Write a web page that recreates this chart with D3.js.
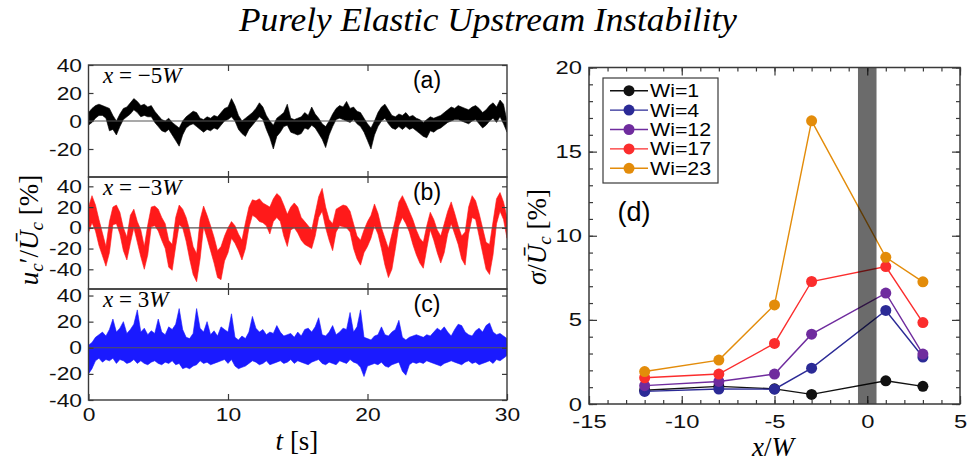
<!DOCTYPE html>
<html>
<head>
<meta charset="utf-8">
<script src="https://cdn.jsdelivr.net/npm/d3@7"></script>
<style>
  body { margin: 0; background: #fff; }
</style>
</head>
<body>
<div id="chart"></div>
<script>
// ---- data -------------------------------------------------------------
var title = "Purely Elastic Upstream Instability";

// velocity traces, envelope of the scatter read every dt seconds (0..30 s)
var dt = 0.25;
var hiA = [6,9,11,12,11,10,9,4,0,5, 9,10,13,16,14,11,12,10,11,7, 4,1,0,2,-1,-3,-5,0,3,5,
  7,6,2,1,3,2,4,3,6,9, 10,16,11,4,0,2,4,6,9,13, 10,4,0,-3,2,4,6,12,2,1,
  2,3,6,4,10,5,2,-2,-4,0, 5,9,11,10,14,9,10,7,6,2, -2,-5,0,6,10,12,8,4,3,5,
  4,6,3,4,2,1,-1,1,3,2, 3,4,6,8,10,9,11,10,9,8, 10,11,9,6,8,11,13,10,15,12, 0];
var loA = [-3,-1,2,4,4,2,-7,-6,-10,-4, 1,3,5,8,6,3,4,3,3,-1, -4,-7,-8,-6,-10,-14,-18,-10,-5,-3,
  -2,-4,-6,-8,-6,-7,-5,-6,-3,0, 1,3,0,-6,-9,-11,-6,-3,0,3, 1,-6,-12,-20,-11,-8,-4,-3,-8,-9,
  -10,-9,-5,-6,-3,-5,-9,-13,-19,-10, -4,1,2,1,0,-1,1,-2,-4,-8, -14,-20,-10,-4,0,2,-2,-5,-6,-4,
  -6,-4,-6,-5,-7,-9,-11,-12,-7,-8, -6,-5,-3,-1,0,1,1,0,-1,-2, 0,1,-2,-5,-3,0,2,-1,3,-2, -8];

var hiB = [20,31,22,8,-5,-18,6,20,22,15, 0,-9,12,18,6,-2,-18,3,20,21, 18,10,4,-12,-16,10,22,18,10,-2,
  -18,-25,8,21,12,2,-9,-22,-18,-8, 0,6,2,-6,-12,5,20,27,26,28, 24,22,20,28,33,30,22,13,20,24,
  20,10,6,2,-2,14,30,38,20,8, 4,18,20,22,21,16,4,-8,-12,-2, 6,12,23,14,0,-10,-20,-6,8,25,
  31,24,16,8,-2,-10,-14,2,15,8, -2,-8,4,16,25,14,2,-8,-4,20, 31,26,14,0,-14,-16,6,28,34,25, 10];
var loB = [-5,5,-3,-17,-27,-37,-24,3,4,-6, -22,-31,-15,0,-14,-28,-40,-26,1,2, -3,-12,-20,-38,-41,-18,3,0,-13,-30,
  -45,-52,-30,1,-10,-22,-34,-48,-50,-32, -24,-10,-15,-22,-31,-20,0,12,10,6, 5,2,-6,6,10,6,-8,-18,-2,0,
  -5,-12,-16,-18,-20,-8,10,16,0,-12, -22,-4,2,1,0,-4,-20,-30,-36,-24, -18,-10,2,-6,-20,-36,-48,-40,-20,2,
  10,4,-4,-16,-26,-34,-39,-20,-2,-12, -24,-34,-24,-6,4,-6,-16,-30,-36,-6, 10,8,-8,-24,-40,-45,-26,4,16,8, -10];

var hiC = [2,4,8,10,12,9,14,22,12,15, 20,11,14,18,29,12,15,10,13,11, 22,12,10,16,14,18,30,14,8,7,
  11,30,15,12,20,10,13,9,16,14, 12,26,8,6,9,7,12,24,15,12, 14,10,12,11,17,12,9,10,11,8,
  12,9,14,15,12,16,23,10,9,12, 17,10,12,15,14,27,12,16,29,8, 7,6,9,10,16,10,9,12,14,21,
  8,6,8,9,10,9,8,10,9,12, 15,13,16,12,9,14,18,17,12,10, 9,13,15,12,17,19,12,10,11,9, 7];
var loC = [-20,-16,-10,-8,-11,-9,-10,-8,-12,-9, -10,-12,-11,-9,-12,-10,-12,-13,-11,-10, -12,-13,-11,-12,-10,-13,-12,-16,-15,-16,
  -14,-13,-10,-12,-11,-13,-12,-11,-10,-9, -12,-9,-14,-16,-15,-14,-12,-10,-11,-13, -12,-10,-13,-12,-11,-10,-12,-11,-9,-12,
  -10,-11,-12,-13,-11,-10,-9,-12,-13,-11, -12,-13,-10,-11,-12,-9,-11,-12,-15,-22, -14,-13,-12,-13,-11,-14,-15,-13,-12,-11,
  -18,-21,-13,-11,-12,-11,-12,-10,-11,-12, -13,-14,-12,-11,-10,-11,-12,-13,-11,-10, -12,-11,-13,-12,-11,-10,-12,-9,-10,-8, -6];

var timeTicks = [0, 10, 20, 30];
var yTicksA = [-20, 0, 20, 40];
var yTicksB = [-40, -20, 0, 20, 40];
var yTicksC = [-40, -20, 0, 20, 40];

// panel (d): rms fluctuation vs position
var xPos = [-12, -8, -5, -3, 1, 3];
var wiNames = ["Wi=1", "Wi=4", "Wi=12", "Wi=17", "Wi=23"];
var sigWi1 = [0.82, 1.05, 0.9, 0.57, 1.38, 1.05];
var sigWi4 = [0.75, 0.89, 0.88, 2.13, 5.56, 2.79];
var sigWi12 = [1.09, 1.34, 1.78, 4.15, 6.59, 2.97];
var sigWi17 = [1.56, 1.78, 3.6, 7.28, 8.17, 4.84];
var sigWi23 = [1.93, 2.61, 5.89, 16.83, 8.72, 7.26];
var slitBand = [-0.5, 0.5];

// ---- setup ------------------------------------------------------------
var w = 971, h = 466;
var sans = "'Liberation Sans', Arial, Helvetica, sans-serif";
var serif = "'Liberation Serif', 'Times New Roman', serif";
var frameColor = "#3a3a3a";

var svg = d3.select("#chart").append("svg")
    .attr("width", w)
    .attr("height", h)
    .style("font-family", sans);

svg.append("rect").attr("width", w).attr("height", h).attr("fill", "#fff");

svg.append("text")
    .attr("x", 488).attr("y", 31)
    .attr("text-anchor", "middle")
    .attr("font-family", serif)
    .attr("font-style", "italic")
    .attr("font-size", 33)
    .attr("textLength", 498)
    .attr("lengthAdjust", "spacingAndGlyphs")
    .text(title);

// the figure's lettering is a little wider than tall, so stretch labels
function stretchText(sel, stretch) {
    sel.each(function() {
        if (!this.textContent) return;
        d3.select(this).attr("textLength", this.getComputedTextLength() * stretch)
            .attr("lengthAdjust", "spacingAndGlyphs");
    });
}

function styleAxis(g, size, stretch) {
    g.select(".domain").remove();
    g.selectAll("line").attr("stroke", frameColor).attr("stroke-width", 1.2);
    g.selectAll("text")
        .attr("font-size", size)
        .attr("fill", "#111")
        .attr("font-family", sans)
        .call(stretchText, stretch || 1);
}

// ---- left: three time traces ------------------------------------------
var xT = d3.scaleLinear().domain([0, 30]).range([88.5, 507]);

var panels = [
    { hi: hiA, lo: loA, color: "#000", top: 65, bottom: 177, domain: [-40, 40], ticks: yTicksA, pos: "\u22125", tag: "(a)" },
    { hi: hiB, lo: loB, color: "#ff1a1a", top: 177, bottom: 289, domain: [-59, 49], ticks: yTicksB, pos: "\u22123", tag: "(b)" },
    { hi: hiC, lo: loC, color: "#1a1aff", top: 289, bottom: 400, domain: [-40, 45], ticks: yTicksC, pos: "3", tag: "(c)" }
];

panels.forEach(function(p, k) {
    var y = d3.scaleLinear().domain(p.domain).range([p.bottom, p.top]);
    var g = svg.append("g");

    svg.append("clipPath").attr("id", "clip" + k)
        .append("rect")
        .attr("x", xT(0)).attr("y", p.top)
        .attr("width", xT(30) - xT(0)).attr("height", p.bottom - p.top);

    var area = d3.area()
        .x(function(d, i) { return xT(i * dt); })
        .y0(function(d, i) { return y(p.lo[i]); })
        .y1(function(d) { return y(d); });

    g.append("path")
        .datum(p.hi)
        .attr("clip-path", "url(#clip" + k + ")")
        .attr("d", area)
        .attr("fill", p.color)
        .attr("stroke", p.color)
        .attr("stroke-width", 0.6);

    // zero line
    g.append("line")
        .attr("x1", xT(0)).attr("x2", xT(30))
        .attr("y1", y(0)).attr("y2", y(0))
        .attr("stroke", "#555").attr("stroke-width", 1.2);

    // axes
    g.append("g").attr("transform", "translate(" + xT(0) + ",0)")
        .call(d3.axisLeft(y).tickValues(p.ticks).tickSizeInner(-5).tickSizeOuter(0)
            .tickPadding(6.5).tickFormat(function(d) { return String(d); }))
        .call(styleAxis, 19, 1.2);
    g.append("g").attr("transform", "translate(" + xT(30) + ",0)")
        .call(d3.axisRight(y).tickValues(p.ticks).tickSizeInner(-5).tickSizeOuter(0).tickFormat(""))
        .call(styleAxis, 19);
    g.append("g").attr("transform", "translate(0," + p.top + ")")
        .call(d3.axisTop(xT).tickValues([10, 20]).tickSizeInner(-6).tickSizeOuter(0).tickFormat(""))
        .call(styleAxis, 19);
    var bottomAxis = d3.axisBottom(xT).tickSizeInner(-6).tickSizeOuter(0).tickPadding(8);
    if (k === 2) {
        bottomAxis.tickValues(timeTicks).tickFormat(function(d) { return String(d); });
    } else {
        bottomAxis.tickValues([10, 20]).tickFormat("");
    }
    g.append("g").attr("transform", "translate(0," + p.bottom + ")")
        .call(bottomAxis)
        .call(styleAxis, 19, 1.2);

    // frame
    g.append("rect")
        .attr("x", xT(0)).attr("y", p.top)
        .attr("width", xT(30) - xT(0)).attr("height", p.bottom - p.top)
        .attr("fill", "none").attr("stroke", frameColor).attr("stroke-width", 1.4);

    // position label
    var lab = g.append("text")
        .attr("x", 103).attr("y", p.top + 18)
        .attr("font-family", serif).attr("font-size", 23);
    lab.append("tspan").attr("font-style", "italic").text("x");
    lab.append("tspan").text(" = " + p.pos);
    lab.append("tspan").attr("font-style", "italic").text("W");

    g.append("text")
        .attr("x", 427).attr("y", p.top + 23)
        .attr("text-anchor", "middle")
        .attr("font-size", 23)
        .text(p.tag);
});

// left axis titles
var yLab = svg.append("text")
    .attr("transform", "translate(38,230) rotate(-90)")
    .attr("text-anchor", "middle")
    .attr("font-family", serif)
    .attr("font-size", 27);
yLab.append("tspan").attr("font-style", "italic").text("u");
yLab.append("tspan").attr("font-style", "italic").attr("font-size", 19).attr("dy", 5).text("c");
yLab.append("tspan").attr("dy", -5).text("\u2032/");
yLab.append("tspan").attr("font-style", "italic").text("\u016A");
yLab.append("tspan").attr("font-style", "italic").attr("font-size", 19).attr("dy", 5).text("c");
yLab.append("tspan").attr("dy", -5).text(" [%]");

var tLab = svg.append("text")
    .attr("x", 297).attr("y", 450)
    .attr("text-anchor", "middle")
    .attr("font-family", serif)
    .attr("font-size", 27);
tLab.append("tspan").attr("font-style", "italic").text("t");
tLab.append("tspan").text(" [s]");

// ---- right: sigma vs x/W ----------------------------------------------
var xR = d3.scaleLinear().domain([-15, 5]).range([589, 960]);
var yR = d3.scaleLinear().domain([0, 20]).range([404, 67.5]);

var series = [
    { name: wiNames[0], values: sigWi1, color: "#111111" },
    { name: wiNames[1], values: sigWi4, color: "#2b2a96" },
    { name: wiNames[2], values: sigWi12, color: "#6f2c9e" },
    { name: wiNames[3], values: sigWi17, color: "#fb2d2d" },
    { name: wiNames[4], values: sigWi23, color: "#e38c0a" }
];

var gr = svg.append("g");

// minor + major ticks
gr.append("g").attr("transform", "translate(0,404)")
    .call(d3.axisBottom(xR).tickValues(d3.range(-15, 6, 1)).tickSizeInner(-4).tickSizeOuter(0).tickFormat(""))
    .call(styleAxis, 19);
gr.append("g").attr("transform", "translate(0,404)")
    .call(d3.axisBottom(xR).tickValues([-15, -10, -5, 0, 5]).tickSizeInner(-8).tickSizeOuter(0)
        .tickPadding(11).tickFormat(function(d) { return String(d); }))
    .call(styleAxis, 19, 1.25);
gr.append("g").attr("transform", "translate(0,67.5)")
    .call(d3.axisTop(xR).tickValues(d3.range(-15, 6, 1)).tickSizeInner(-4).tickSizeOuter(0).tickFormat(""))
    .call(styleAxis, 19);
gr.append("g").attr("transform", "translate(0,67.5)")
    .call(d3.axisTop(xR).tickValues([-15, -10, -5, 0, 5]).tickSizeInner(-8).tickSizeOuter(0).tickFormat(""))
    .call(styleAxis, 19);
gr.append("g").attr("transform", "translate(589,0)")
    .call(d3.axisLeft(yR).tickValues(d3.range(0, 21, 1)).tickSizeInner(-4).tickSizeOuter(0).tickFormat(""))
    .call(styleAxis, 19);
gr.append("g").attr("transform", "translate(589,0)")
    .call(d3.axisLeft(yR).tickValues([0, 5, 10, 15, 20]).tickSizeInner(-8).tickSizeOuter(0)
        .tickPadding(7).tickFormat(function(d) { return String(d); }))
    .call(styleAxis, 19, 1.25);
gr.append("g").attr("transform", "translate(960,0)")
    .call(d3.axisRight(yR).tickValues(d3.range(0, 21, 1)).tickSizeInner(-4).tickSizeOuter(0).tickFormat(""))
    .call(styleAxis, 19);
gr.append("g").attr("transform", "translate(960,0)")
    .call(d3.axisRight(yR).tickValues([0, 5, 10, 15, 20]).tickSizeInner(-8).tickSizeOuter(0).tickFormat(""))
    .call(styleAxis, 19);

var line = d3.line()
    .x(function(d, i) { return xR(xPos[i]); })
    .y(function(d) { return yR(d); });

series.forEach(function(s) {
    gr.append("path")
        .datum(s.values)
        .attr("d", line)
        .attr("fill", "none")
        .attr("stroke", s.color)
        .attr("stroke-width", 1.4);
    gr.selectAll(null)
        .data(s.values)
        .enter().append("circle")
        .attr("cx", function(d, i) { return xR(xPos[i]); })
        .attr("cy", function(d) { return yR(d); })
        .attr("r", 5.5)
        .attr("fill", s.color);
});

// slit region, drawn semi-transparent over the lines
gr.append("rect")
    .attr("x", xR(slitBand[0])).attr("y", yR(20))
    .attr("width", xR(slitBand[1]) - xR(slitBand[0]))
    .attr("height", yR(0) - yR(20))
    .attr("fill", "#000").attr("opacity", 0.58);

gr.append("rect")
    .attr("x", 589).attr("y", 67.5)
    .attr("width", 960 - 589).attr("height", 404 - 67.5)
    .attr("fill", "none").attr("stroke", frameColor).attr("stroke-width", 1.5);

// legend
var leg = gr.append("g");
leg.append("rect")
    .attr("x", 603).attr("y", 78).attr("width", 115).attr("height", 105)
    .attr("fill", "#fff").attr("stroke", frameColor).attr("stroke-width", 1.2);
series.forEach(function(s, i) {
    var ly = 90.7 + i * 19.4;
    leg.append("line").attr("x1", 610).attr("x2", 648).attr("y1", ly).attr("y2", ly)
        .attr("stroke", s.color).attr("stroke-width", 1.4);
    leg.append("circle").attr("cx", 629).attr("cy", ly).attr("r", 5.5).attr("fill", s.color);
    leg.append("text").attr("x", 650).attr("y", ly + 6.5).attr("font-size", 17.5)
        .text(s.name)
        .call(stretchText, 1.22);
});

gr.append("text")
    .attr("x", 634).attr("y", 221)
    .attr("text-anchor", "middle")
    .attr("font-size", 27)
    .text("(d)");

var xrLab = gr.append("text")
    .attr("x", 773).attr("y", 456)
    .attr("text-anchor", "middle")
    .attr("font-family", serif)
    .attr("font-style", "italic")
    .attr("font-size", 27);
xrLab.append("tspan").text("x");
xrLab.append("tspan").attr("font-style", "normal").text("/");
xrLab.append("tspan").text("W");

var yrLab = gr.append("text")
    .attr("transform", "translate(546,237) rotate(-90)")
    .attr("text-anchor", "middle")
    .attr("font-family", serif)
    .attr("font-size", 27);
yrLab.append("tspan").attr("font-style", "italic").text("\u03C3");
yrLab.append("tspan").text("/");
yrLab.append("tspan").attr("font-style", "italic").text("\u016A");
yrLab.append("tspan").attr("font-style", "italic").attr("font-size", 19).attr("dy", 5).text("c");
yrLab.append("tspan").attr("dy", -5).text(" [%]");
</script>
</body>
</html>
